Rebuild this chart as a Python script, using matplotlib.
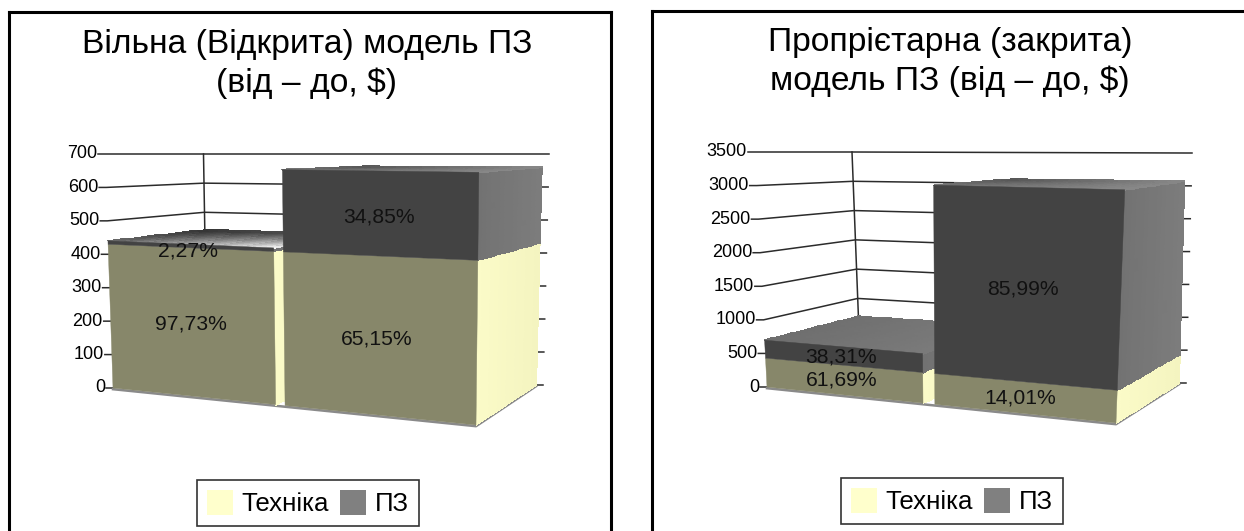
import numpy as np
import matplotlib
matplotlib.use("Agg")
import matplotlib.pyplot as plt
from matplotlib.patches import Patch

plt.rcParams['font.family'] = ['Liberation Sans', 'DejaVu Sans']

# ---- data ----
series_names = ["Техніка", "ПЗ"]
left_title = "Вільна (Відкрита) модель ПЗ\n(від – до, $)"
right_title = "Пропрієтарна (закрита)\nмодель ПЗ (від – до, $)"
left_hardware = [430, 430]
left_software = [10, 230]
left_hardware_pct = ["97,73%", "65,15%"]
left_software_pct = ["2,27%", "34,85%"]
right_hardware = [430, 430]
right_software = [267, 2639]
right_hardware_pct = ["61,69%", "14,01%"]
right_software_pct = ["38,31%", "85,99%"]
left_ticks = [0, 100, 200, 300, 400, 500, 600, 700]
right_ticks = [0, 500, 1000, 1500, 2000, 2500, 3000, 3500]

W, H = 1244, 531
DPI = 100
fig = plt.figure(figsize=(W / DPI, H / DPI), dpi=DPI, facecolor="white")


class Box:
    """Trilinear projection of the chart's 3-D box on to the panel."""

    def __init__(self, vmax, fl0, fr0, bl0, br0, fl1, fr1, bl1, br1):
        self.vmax = vmax
        self.c = np.array([[fl0, fr0], [bl0, br0], [fl1, fr1], [bl1, br1]], float)

    def __call__(self, u, d, v):
        t = v / self.vmax
        c = self.c
        floor = (1 - d) * ((1 - u) * c[0, 0] + u * c[0, 1]) + d * ((1 - u) * c[1, 0] + u * c[1, 1])
        ceil = (1 - d) * ((1 - u) * c[2, 0] + u * c[2, 1]) + d * ((1 - u) * c[3, 0] + u * c[3, 1])
        return (1 - t) * floor + t * ceil


def shade(ax, p00, p10, p01, p11, c00, c10, c01, c11, z, n=14):
    """Gradient-filled quad; p/c indices are (s, t)."""
    s = np.linspace(0, 1, n + 1)
    t = np.linspace(0, 1, n + 1)
    S, T = np.meshgrid(s, t)
    p00, p10, p01, p11 = map(np.asarray, (p00, p10, p01, p11))
    X = (1 - S) * (1 - T) * p00[0] + S * (1 - T) * p10[0] + (1 - S) * T * p01[0] + S * T * p11[0]
    Y = (1 - S) * (1 - T) * p00[1] + S * (1 - T) * p10[1] + (1 - S) * T * p01[1] + S * T * p11[1]
    sc = (s[:-1] + s[1:]) / 2
    tc = (t[:-1] + t[1:]) / 2
    SC, TC = np.meshgrid(sc, tc)
    cols = np.zeros(SC.shape + (3,))
    for i in range(3):
        cols[..., i] = ((1 - SC) * (1 - TC) * c00[i] + SC * (1 - TC) * c10[i]
                        + (1 - SC) * TC * c01[i] + SC * TC * c11[i])
    ax.pcolormesh(X, Y, cols, shading="flat", edgecolors="face", linewidth=0.3, zorder=z)


def rgb(h):
    return matplotlib.colors.to_rgb(h)


FRONT = {0: "#87876a", 1: "#434343"}
SIDE = {0: (rgb("#fbfbc8"), rgb("#f4f4c0")), 1: (rgb("#727272"), rgb("#7c7c7c"))}


def draw_panel(ax, box, hw, sw, hw_pct, sw_pct, ticks, edges, title, top_style, label_nudge, title_y, legend_x, legend_y):
    # wall grid lines
    for v in ticks:
        xl, yl = box(0, 0, v)
        xb, yb = box(0, 1, v)
        xr, yr = box(1, 1, v)
        ax.plot([xl - 7, xl, xb, xr, xr + 7], [yl, yl, yb, yr, yr],
                color="#2b2b2b", lw=1.1, zorder=1, solid_joinstyle="miter")
        ax.text(xl - 8, yl, str(v), ha="right", va="center", fontsize=13, color="black", zorder=8)
    pts = [box(0, 1, ticks[0]), box(0, 1, ticks[-1])]
    ax.plot([pts[0][0], pts[1][0]], [pts[0][1], pts[1][1]], color="#2b2b2b", lw=1.1, zorder=1)

    # floor edge
    e = [box(0, 0, 0), box(1, 0, 0), box(1, 1, 0)]
    ax.plot([p[0] for p in e], [p[1] + 1.2 for p in e], color="#8a8a8a", lw=1.8, zorder=1.5)

    z = 2.0
    for i, (u0, u1) in enumerate(edges):
        stack = [(0, hw[i], 0), (hw[i], hw[i] + sw[i], 1)]
        for lo, hi, k in stack:
            shade(ax, box(u1, 0, lo), box(u1, 1, lo), box(u1, 0, hi), box(u1, 1, hi),
                  SIDE[k][0], SIDE[k][1], SIDE[k][0], SIDE[k][1], z)
            z += 0.01
        top = hw[i] + sw[i]
        cs = top_style[i]
        shade(ax, box(u0, 0, top), box(u1, 0, top), box(u0, 1, top), box(u1, 1, top),
              rgb(cs[0]), rgb(cs[1]), rgb(cs[2]), rgb(cs[3]), z)
        z += 0.01
        for lo, hi, k in stack:
            q = [box(u0, 0, lo), box(u1, 0, lo), box(u1, 0, hi), box(u0, 0, hi)]
            ax.fill([p[0] for p in q], [p[1] for p in q], color=FRONT[k], lw=0.3, zorder=z)
            z += 0.01
        z += 0.1

    # value labels (centred on each front face)
    for i, (u0, u1) in enumerate(edges):
        um = (u0 + u1) / 2
        x, y = box(um, 0, hw[i] / 2)
        dx, dy = label_nudge[i][0]
        ax.text(x + dx, y + dy, hw_pct[i], ha="center", va="center", fontsize=15.2, color="#111111", zorder=9)
        x, y = box(um, 0, hw[i] + sw[i] / 2)
        dx, dy = label_nudge[i][1]
        ax.text(x + dx, y + dy, sw_pct[i], ha="center", va="center", fontsize=15.2, color="#111111", zorder=9)

    handles = [Patch(facecolor="#ffffcc", edgecolor="none"), Patch(facecolor="#808080", edgecolor="none")]
    leg = ax.legend(handles, series_names, loc="lower center", bbox_to_anchor=(legend_x, legend_y),
                    bbox_transform=ax.transData, ncol=2, fontsize=18.6, frameon=True, fancybox=False,
                    edgecolor="#333333", framealpha=1, borderpad=0.38, borderaxespad=0,
                    handlelength=1.0, handleheight=1.08,
                    handletextpad=0.34, columnspacing=0.42, labelspacing=0)
    leg.get_frame().set_linewidth(1.2)
    leg.set_zorder(10)

    ax.text(title[1], title_y, title[0], ha="center", va="center", fontsize=title[2], linespacing=1.33, color="black")


def make_axes(x0, x1, y0, y1, lw, right=True):
    ax = fig.add_axes([x0 / W, 1 - y1 / H, (x1 - x0) / W, (y1 - y0) / H])
    ax.set_xlim(x0, x1)
    ax.set_ylim(y1, y0)
    ax.set_xticks([])
    ax.set_yticks([])
    for s in ax.spines.values():
        s.set_color("black")
        s.set_linewidth(lw)
    ax.spines["bottom"].set_visible(False)
    ax.spines["right"].set_visible(right)
    return ax


left_box = Box(700, (113, 388), (476, 425), (207, 358), (536, 385),
               (105, 154), (479, 157), (203.5, 154), (542, 154))
right_box = Box(3500, (767, 387), (1116, 423), (860, 357), (1179, 383),
                (755, 152), (1126, 157), (852, 152), (1185, 153))

ax1 = make_axes(8.5, 610.5, 12, 533, 2.2)
ax2 = make_axes(651.5, 1244, 11, 533, 2.2, right=False)

draw_panel(ax1, left_box, left_hardware, left_software, left_hardware_pct, left_software_pct,
           left_ticks, [(0.0, 0.448), (0.474, 1.0)], (left_title, 307, 24.2),
           [("#666666", "#ffffff", "#333333", "#555555"), ("#777777", "#888888", "#555555", "#888888")],
           [[(-2, 2), (-3, 5)], [(-4, 3), (-2, 3)]], 64, 308, 526)
draw_panel(ax2, right_box, right_hardware, right_software, right_hardware_pct, right_software_pct,
           right_ticks, [(0.0, 0.447), (0.481, 1.0)], (right_title, 950, 24.2),
           [("#6e6e6e", "#7a7a7a", "#707070", "#7a7a7a"), ("#777777", "#888888", "#555555", "#888888")],
           [[(-3, 0), (-3, 1)], [(-5, 0), (-5, 4)]], 62, 952, 524)

fig.savefig("out.png", dpi=DPI)
